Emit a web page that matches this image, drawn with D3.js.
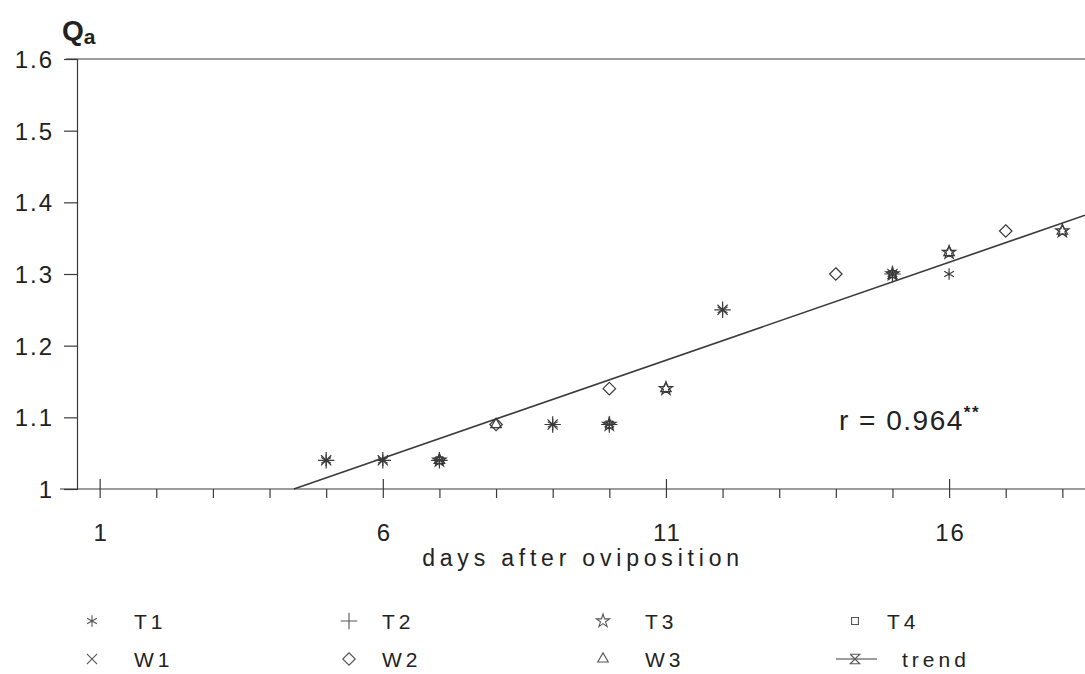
<!DOCTYPE html>
<html>
<head>
<meta charset="utf-8">
<script src="https://cdn.jsdelivr.net/npm/d3@7"></script>
<style>
  body { margin: 0; background: #fff; }
  svg { display: block; font-family: "Liberation Sans", Arial, sans-serif; }
</style>
</head>
<body>
<div id="chart"></div>
<script>
// values
const dayTicks = [1, 2, 3, 4, 5, 6, 7, 8, 9, 10, 11, 12, 13, 14, 15, 16, 17, 18];
const dayLabels = [1, 6, 11, 16];
const qaTicks = [1, 1.1, 1.2, 1.3, 1.4, 1.5, 1.6];

const t1 = [[5, 1.04], [6, 1.04], [7, 1.04], [9, 1.09], [10, 1.09], [12, 1.25], [15, 1.30], [16, 1.30]];
const t2 = [[5, 1.04], [6, 1.04], [7, 1.04], [9, 1.09], [10, 1.09], [12, 1.25], [15, 1.30]];
const t3 = [[7, 1.04], [10, 1.09], [11, 1.14], [15, 1.30], [16, 1.33], [18, 1.36]];
const t4 = [[7, 1.04], [10, 1.09], [15, 1.30]];
const w1 = [[5, 1.04], [6, 1.04], [9, 1.09], [12, 1.25], [15, 1.30]];
const w2 = [[8, 1.09], [10, 1.14], [14, 1.30], [17, 1.36]];
const w3 = [[7, 1.04], [8, 1.09], [11, 1.14], [16, 1.33], [18, 1.36]];
const trendDays = [4.43, 18.4];
const trendQa = [1.0, 1.382];

const width = 1085, height = 674;
const ink = "#3a3a3a";

const svg = d3.select("#chart").append("svg")
    .attr("width", width)
    .attr("height", height);

const x = d3.scaleLinear().domain([0.6, 18.4]).range([77, 1085]);
const y = d3.scaleLinear().domain([1, 1.6]).range([489, 59]);

// hourglass marker used for trend
const hourglass = {
  draw(ctx, size) {
    const r = Math.sqrt(size) / 2;
    ctx.moveTo(-r, -r); ctx.lineTo(r, -r);
    ctx.lineTo(-r, r); ctx.lineTo(r, r);
    ctx.lineTo(-r, -r);
  }
};

const series = [
  { name: "T1", data: t1, type: d3.symbolAsterisk, size: 90 },
  { name: "T2", data: t2, type: d3.symbolPlus, size: 90 },
  { name: "T3", data: t3, type: d3.symbolStar, size: 55 },
  { name: "T4", data: t4, type: d3.symbolSquare2, size: 60 },
  { name: "W1", data: w1, type: d3.symbolTimes, size: 70 },
  { name: "W2", data: w2, type: d3.symbolDiamond2, size: 100 },
  { name: "W3", data: w3, type: d3.symbolTriangle2, size: 80 },
  { name: "trend", data: [], type: hourglass, size: 90 }
];

// top frame line
svg.append("line")
    .attr("x1", 66).attr("x2", width)
    .attr("y1", y(1.6)).attr("y2", y(1.6))
    .attr("stroke", ink).attr("stroke-width", 1.2);

// x axis line (extends left of the y axis)
svg.append("line")
    .attr("x1", 60).attr("x2", width)
    .attr("y1", y(1)).attr("y2", y(1))
    .attr("stroke", ink).attr("stroke-width", 1.2);

// y axis
const yAxis = svg.append("g")
    .attr("transform", `translate(${x(0.6)},0)`)
    .call(d3.axisLeft(y).tickValues(qaTicks).tickSize(13).tickPadding(10)
      .tickFormat(d => d === 1 ? "1" : d3.format(".1f")(d)));
yAxis.select(".domain").attr("stroke", ink).attr("stroke-width", 1.2);
yAxis.selectAll(".tick line").attr("stroke", ink).attr("stroke-width", 1.2);
yAxis.selectAll(".tick text")
    .attr("fill", "#222")
    .style("font-size", "24px")
    .style("letter-spacing", "2px")
    .attr("dy", "0.36em");

// x axis
const xAxis = svg.append("g")
    .attr("transform", `translate(0,${y(1)})`)
    .call(d3.axisBottom(x).tickValues(dayTicks).tickSize(9).tickPadding(26)
      .tickFormat(d => dayLabels.includes(d) ? d : ""));
xAxis.select(".domain").remove();
xAxis.selectAll(".tick line")
    .attr("stroke", ink).attr("stroke-width", 1.2)
    .attr("y1", d => dayLabels.includes(d) ? -10 : 0);
xAxis.selectAll(".tick text")
    .attr("fill", "#222")
    .attr("dx", 1)
    .style("font-size", "24px")
    .style("letter-spacing", "2px");

// axis titles
svg.append("text")
    .attr("x", 583).attr("y", 566)
    .attr("text-anchor", "middle")
    .attr("fill", "#222")
    .style("font-size", "23px")
    .style("letter-spacing", "4.8px")
    .text("days after oviposition");

const qa = svg.append("text")
    .attr("x", 62).attr("y", 40)
    .attr("fill", "#222")
    .style("font-size", "28px")
    .style("font-weight", "bold");
qa.append("tspan").text("Q");
qa.append("tspan").attr("dy", 4).style("font-size", "21px").text("a");

// trend line
svg.append("line")
    .attr("x1", x(trendDays[0])).attr("y1", y(trendQa[0]))
    .attr("x2", x(trendDays[1])).attr("y2", y(trendQa[1]))
    .attr("stroke", ink).attr("stroke-width", 1.6);

// points
series.forEach(s => {
  svg.append("g").selectAll("path")
    .data(s.data)
    .join("path")
    .attr("transform", d => `translate(${x(d[0])},${y(d[1])})`)
    .attr("d", d3.symbol().type(s.type).size(s.size))
    .attr("fill", "none")
    .attr("stroke", ink)
    .attr("stroke-width", 1.2);
});

// r annotation
const r = svg.append("text")
    .attr("x", 839).attr("y", 430)
    .attr("fill", "#222")
    .style("font-size", "28px")
    .style("letter-spacing", "1.5px");
r.append("tspan").text("r = 0.964");
r.append("tspan").attr("dy", -12).style("font-size", "17px").style("font-weight", "bold").text("**");

// legend
const legX = [92, 349, 603, 855];
const legTextX = [134, 382, 645, 887];
const legY = [621, 659];
const legend = svg.append("g");
series.forEach((s, i) => {
  const col = i % 4, cy = legY[Math.floor(i / 4)];
  const g = legend.append("g").attr("transform", `translate(${legX[col]},${cy})`);
  if (s.name === "trend") {
    g.append("line").attr("x1", -19).attr("x2", 22)
      .attr("stroke", ink).attr("stroke-width", 1.2);
  }
  g.append("path")
    .attr("d", d3.symbol().type(s.type).size(s.size))
    .attr("fill", "none")
    .attr("stroke", "#555")
    .attr("stroke-width", 1.1);
  g.append("text")
    .attr("x", (s.name === "trend" ? 902 : legTextX[col]) - legX[col])
    .attr("dy", "0.36em")
    .attr("fill", "#222")
    .style("font-size", "21px")
    .style("letter-spacing", "4px")
    .text(s.name);
});
</script>
</body>
</html>
